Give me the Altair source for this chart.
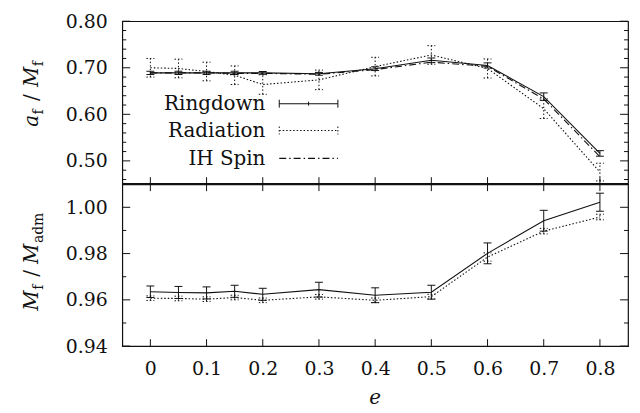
import altair as alt
import pandas as pd

# ---------------- data ----------------
e_vals = [0.0, 0.05, 0.1, 0.15, 0.2, 0.3, 0.4, 0.5, 0.6, 0.7, 0.8]

ringdown_spin = [0.689, 0.689, 0.689, 0.689, 0.689, 0.687, 0.698, 0.716, 0.705, 0.638, 0.516]
ringdown_spin_err = [0.0035, 0.0035, 0.0035, 0.0035, 0.003, 0.003, 0.004, 0.005, 0.0055, 0.008, 0.006]
radiation_spin = [0.700, 0.6985, 0.692, 0.684, 0.664, 0.674, 0.7025, 0.7275, 0.6985, 0.612, 0.476]
radiation_spin_err = [0.020, 0.020, 0.020, 0.020, 0.021, 0.021, 0.020, 0.020, 0.0205, 0.021, 0.019]
ih_spin = [0.689, 0.689, 0.689, 0.688, 0.688, 0.686, 0.696, 0.712, 0.703, 0.633, 0.509]

ringdown_mass = [0.9635, 0.9632, 0.9630, 0.9637, 0.9624, 0.9644, 0.9620, 0.9633, 0.9801, 0.9942, 1.0022]
ringdown_mass_err = [0.0025, 0.0026, 0.0026, 0.0026, 0.0026, 0.0032, 0.0032, 0.0030, 0.0045, 0.0045, 0.0039]
radiation_mass = [0.9607, 0.9606, 0.9603, 0.9610, 0.9598, 0.9613, 0.9598, 0.9614, 0.9785, 0.9897, 0.9958]
radiation_mass_err = [0.0010, 0.0010, 0.0010, 0.0010, 0.0010, 0.0010, 0.0010, 0.0010, 0.0018, 0.0012, 0.0012]

series_names = ["Ringdown", "Radiation", "IH Spin"]

x_ticks = [0, 0.1, 0.2, 0.3, 0.4, 0.5, 0.6, 0.7, 0.8]
top_major = [0.50, 0.60, 0.70, 0.80]
top_minor = [0.46, 0.48, 0.52, 0.54, 0.56, 0.58, 0.62, 0.64, 0.66, 0.68, 0.72, 0.74, 0.76, 0.78]
bot_major = [0.94, 0.96, 0.98, 1.00]
bot_minor = [0.95, 0.97, 0.99]

# ---------------- styling ----------------
FONT = "DejaVu Serif"
INK = "#111111"
W, H1, H2 = 509, 164, 163
DOT = [1.5, 2]
DASHDOT = [7, 3, 1.5, 3]
LBL = 19   # tick label size
TXT = 20   # legend / title size
SUB = 14   # subscript size

xscale = alt.Scale(domain=[-0.05, 0.85], nice=False, zero=False)
yscale_top = alt.Scale(domain=[0.45, 0.80], nice=False, zero=False)
yscale_bot = alt.Scale(domain=[0.94, 1.01], nice=False, zero=False)

ax_top_y = alt.Axis(values=top_major, format=".2f", title=None, labelPadding=15,
                    ticks=False, domain=False, grid=False, tickSize=0)
ax_bot_y = alt.Axis(values=bot_major, format=".2f", title=None, labelPadding=15,
                    ticks=False, domain=False, grid=False, tickSize=0)
ax_bot_x = alt.Axis(values=x_ticks, format="~g", title=None, labelPadding=14,
                    labelFlush=False, ticks=False, domain=False, grid=False, tickSize=0)

top_df = pd.DataFrame({
    "e": e_vals,
    "rd": ringdown_spin,
    "rd_lo": [v - s for v, s in zip(ringdown_spin, ringdown_spin_err)],
    "rd_hi": [v + s for v, s in zip(ringdown_spin, ringdown_spin_err)],
    "rad": radiation_spin,
    "rad_lo": [v - s for v, s in zip(radiation_spin, radiation_spin_err)],
    "rad_hi": [v + s for v, s in zip(radiation_spin, radiation_spin_err)],
    "ih": ih_spin,
})
bot_df = pd.DataFrame({
    "e": e_vals,
    "rd": ringdown_mass,
    "rd_lo": [v - s for v, s in zip(ringdown_mass, ringdown_mass_err)],
    "rd_hi": [v + s for v, s in zip(ringdown_mass, ringdown_mass_err)],
    "rad": radiation_mass,
    "rad_lo": [v - s for v, s in zip(radiation_mass, radiation_mass_err)],
    "rad_hi": [v + s for v, s in zip(radiation_mass, radiation_mass_err)],
})


def make_enc(xaxis, yscale, yaxis):
    def X(f):
        return alt.X(f"{f}:Q", scale=xscale, axis=xaxis)

    def Y(f):
        return alt.Y(f"{f}:Q", scale=yscale, axis=yaxis)
    return X, Y


def series_layers(df, X, Y, field, lo, hi, dash, errors=True):
    base = alt.Chart(df)
    kw = dict(color=INK, strokeWidth=1.1)
    if dash:
        kw["strokeDash"] = dash
    out = [base.mark_line(**kw).encode(x=X("e"), y=Y(field))]
    if errors:
        ekw = dict(color=INK, strokeWidth=1.0)
        if dash:
            ekw["strokeDash"] = dash
        out.append(base.mark_rule(**ekw).encode(x=X("e"), y=Y(lo), y2=f"{hi}:Q"))
        for end in (lo, hi):
            out.append(base.mark_rule(xOffset=-4, x2Offset=4, **ekw)
                       .encode(x=X("e"), x2="e:Q", y=Y(end)))
    return out


def inner_y_ticks(values, Y, length):
    d = alt.Chart(pd.DataFrame({"v": values}))
    return [
        d.mark_rule(color=INK, strokeWidth=1).encode(y=Y("v"), x=alt.value(0), x2=alt.value(length)),
        d.mark_rule(color=INK, strokeWidth=1).encode(y=Y("v"), x=alt.value(W - length), x2=alt.value(W)),
    ]


def inner_x_ticks(X, y_from, y_to):
    d = alt.Chart(pd.DataFrame({"v": x_ticks}))
    return [d.mark_rule(color=INK, strokeWidth=1).encode(x=X("v"), y=alt.value(y_from), y2=alt.value(y_to))]


def text_piece(txt, x, y, size, italic=False, dx=0, dy=0, angle=270, align="left"):
    kw = dict(font=FONT, fontSize=size, color=INK, align=align, baseline="alphabetic", dx=dx, dy=dy)
    if angle:
        kw["angle"] = angle
    if italic:
        kw["fontStyle"] = "italic"
    return alt.Chart(pd.DataFrame({"t": [txt]})).mark_text(**kw).encode(
        text="t:N", x=alt.value(x), y=alt.value(y))


# ---------------- top panel ----------------
Xt, Yt = make_enc(None, yscale_top, ax_top_y)
top_layers = []
top_layers += series_layers(top_df, Xt, Yt, "rd", "rd_lo", "rd_hi", None)
top_layers += series_layers(top_df, Xt, Yt, "rad", "rad_lo", "rad_hi", DOT)
top_layers += series_layers(top_df, Xt, Yt, "ih", None, None, DASHDOT, errors=False)
top_layers += inner_y_ticks(top_major, Yt, 8)
top_layers += inner_y_ticks(top_minor, Yt, 4)
top_layers += inner_x_ticks(Xt, H1, H1 - 7)

# legend (label left of sample, gnuplot style)
leg_text_x, leg_x1, leg_x2 = 144, 158, 217
leg_base = [89.0, 116.5, 144.5]
leg_line = [83.0, 110.0, 138.0]
for i, name in enumerate(series_names):
    top_layers.append(text_piece(name, leg_text_x, leg_base[i], TXT, angle=0, align="right"))
one = alt.Chart(pd.DataFrame({"k": [0]}))
top_layers.append(one.mark_rule(color=INK, strokeWidth=1.1).encode(
    x=alt.value(leg_x1), x2=alt.value(leg_x2), y=alt.value(leg_line[0])))
for xx, half in ((leg_x1, 4), (leg_x2, 4), ((leg_x1 + leg_x2) / 2, 2)):
    top_layers.append(one.mark_rule(color=INK, strokeWidth=1.0).encode(
        x=alt.value(xx), y=alt.value(leg_line[0] - half), y2=alt.value(leg_line[0] + half)))
top_layers.append(one.mark_rule(color=INK, strokeWidth=1.1, strokeDash=DOT).encode(
    x=alt.value(leg_x1), x2=alt.value(leg_x2), y=alt.value(leg_line[1])))
for xx in (leg_x1, leg_x2):
    top_layers.append(one.mark_rule(color=INK, strokeWidth=1.0, strokeDash=DOT).encode(
        x=alt.value(xx), y=alt.value(leg_line[1] - 4), y2=alt.value(leg_line[1] + 4)))
top_layers.append(one.mark_rule(color=INK, strokeWidth=1.1, strokeDash=DASHDOT).encode(
    x=alt.value(leg_x1), x2=alt.value(leg_x2), y=alt.value(leg_line[2])))

# y title a_f / M_f
tx, ty = -84.8, 106.3
top_layers += [
    text_piece("a", tx, ty, TXT, italic=True, dx=0),
    text_piece("f", tx, ty, SUB, dx=12.5, dy=5),
    text_piece("/", tx, ty, TXT, dx=26),
    text_piece("M", tx, ty, TXT, italic=True, dx=40),
    text_piece("f", tx, ty, SUB, dx=61, dy=5),
]
# thick separator line
top_layers.append(one.mark_rule(color=INK, strokeWidth=2.2).encode(
    x=alt.value(0), x2=alt.value(W), y=alt.value(H1)))

top = alt.layer(*top_layers).properties(width=W, height=H1)

# ---------------- bottom panel ----------------
Xb, Yb = make_enc(ax_bot_x, yscale_bot, ax_bot_y)
bot_layers = []
bot_layers += series_layers(bot_df, Xb, Yb, "rd", "rd_lo", "rd_hi", None)
bot_layers += series_layers(bot_df, Xb, Yb, "rad", "rad_lo", "rad_hi", DOT)
bot_layers += inner_y_ticks(bot_major, Yb, 8)
bot_layers += inner_y_ticks(bot_minor, Yb, 4)
bot_layers += inner_x_ticks(Xb, 0, 7)
bot_layers += inner_x_ticks(Xb, H2, H2 - 7)

bx, by = -84.8, 127.3
bot_layers += [
    text_piece("M", bx, by, TXT, italic=True, dx=0),
    text_piece("f", bx, by, SUB, dx=21, dy=5),
    text_piece("/", bx, by, TXT, dx=34),
    text_piece("M", bx, by, TXT, italic=True, dx=47),
    text_piece("adm", bx, by, SUB, dx=68, dy=5),
]
bot_layers.append(text_piece("e", W / 2, H2 + 58, TXT, italic=True, angle=0, align="center"))

bottom = alt.layer(*bot_layers).properties(width=W, height=H2)

chart = (
    alt.vconcat(top, bottom, spacing=0, bounds="flush")
    .properties(padding={"left": 13, "top": 2, "right": 2, "bottom": 2})
    .configure_view(stroke=INK, strokeWidth=1.2)
    .configure_axis(labelFont=FONT, labelFontSize=LBL, labelColor=INK, grid=False,
                    domain=False, ticks=False)
)

chart.save("out.html", embed_options={"renderer": "svg", "actions": False})
